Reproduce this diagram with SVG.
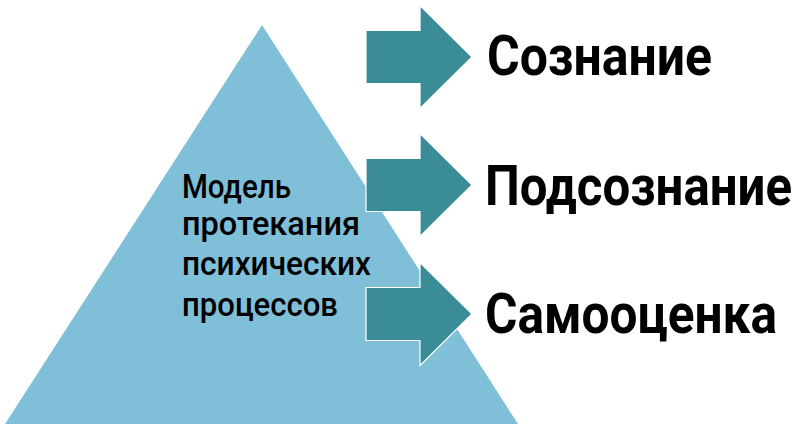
<svg xmlns="http://www.w3.org/2000/svg" xmlns:xlink="http://www.w3.org/1999/xlink" width="798" height="428" viewBox="0 0 798 428">
<style>
.tri{fill:#7fbfd8;}
.arrow{fill:#3a8c96;stroke:#ffffff;stroke-width:1.2;}
.inner{font-family:Roboto,"Liberation Sans",sans-serif;font-weight:500;font-size:34px;fill:#000;}
.label{font-family:Roboto,"Liberation Sans",sans-serif;font-weight:700;font-size:56px;fill:#000;}
</style>
<defs>
<path id="blockArrow" d="M366,-26.5 H420 V-51.5 L472,0 L420,51.5 V26.5 H366 Z"/>
</defs>
<rect width="798" height="428" fill="#ffffff"/>
<g id="pyramid">
<polygon class="tri" points="262,25 518,424 5,424"/>
</g>
<g id="connectors">
<use xlink:href="#blockArrow" class="arrow" transform="translate(0,57)"/>
<use xlink:href="#blockArrow" class="arrow" transform="translate(0,185)"/>
<use xlink:href="#blockArrow" class="arrow" transform="translate(0,314)"/>
</g>
<g id="pyramid-text">
<text class="inner" x="182" y="198" textLength="109" lengthAdjust="spacingAndGlyphs">Модель</text>
<text class="inner" x="182" y="235" textLength="178" lengthAdjust="spacingAndGlyphs">протекания</text>
<text class="inner" x="182" y="275" textLength="189" lengthAdjust="spacingAndGlyphs">психических</text>
<text class="inner" x="182" y="316" textLength="156" lengthAdjust="spacingAndGlyphs">процессов</text>
</g>
<g id="node-soznanie">
<text class="label" transform="translate(487,75) scale(0.88,1)" x="0" y="0" textLength="255.7" lengthAdjust="spacingAndGlyphs">Сознание</text>
</g>
<g id="node-podsoznanie">
<text class="label" transform="translate(485,205) scale(0.88,1)" x="0" y="0" textLength="348.9" lengthAdjust="spacingAndGlyphs">Подсознание</text>
</g>
<g id="node-samootsenka">
<text class="label" transform="translate(485,333) scale(0.88,1)" x="0" y="0" textLength="331.8" lengthAdjust="spacingAndGlyphs">Самооценка</text>
</g>
</svg>
